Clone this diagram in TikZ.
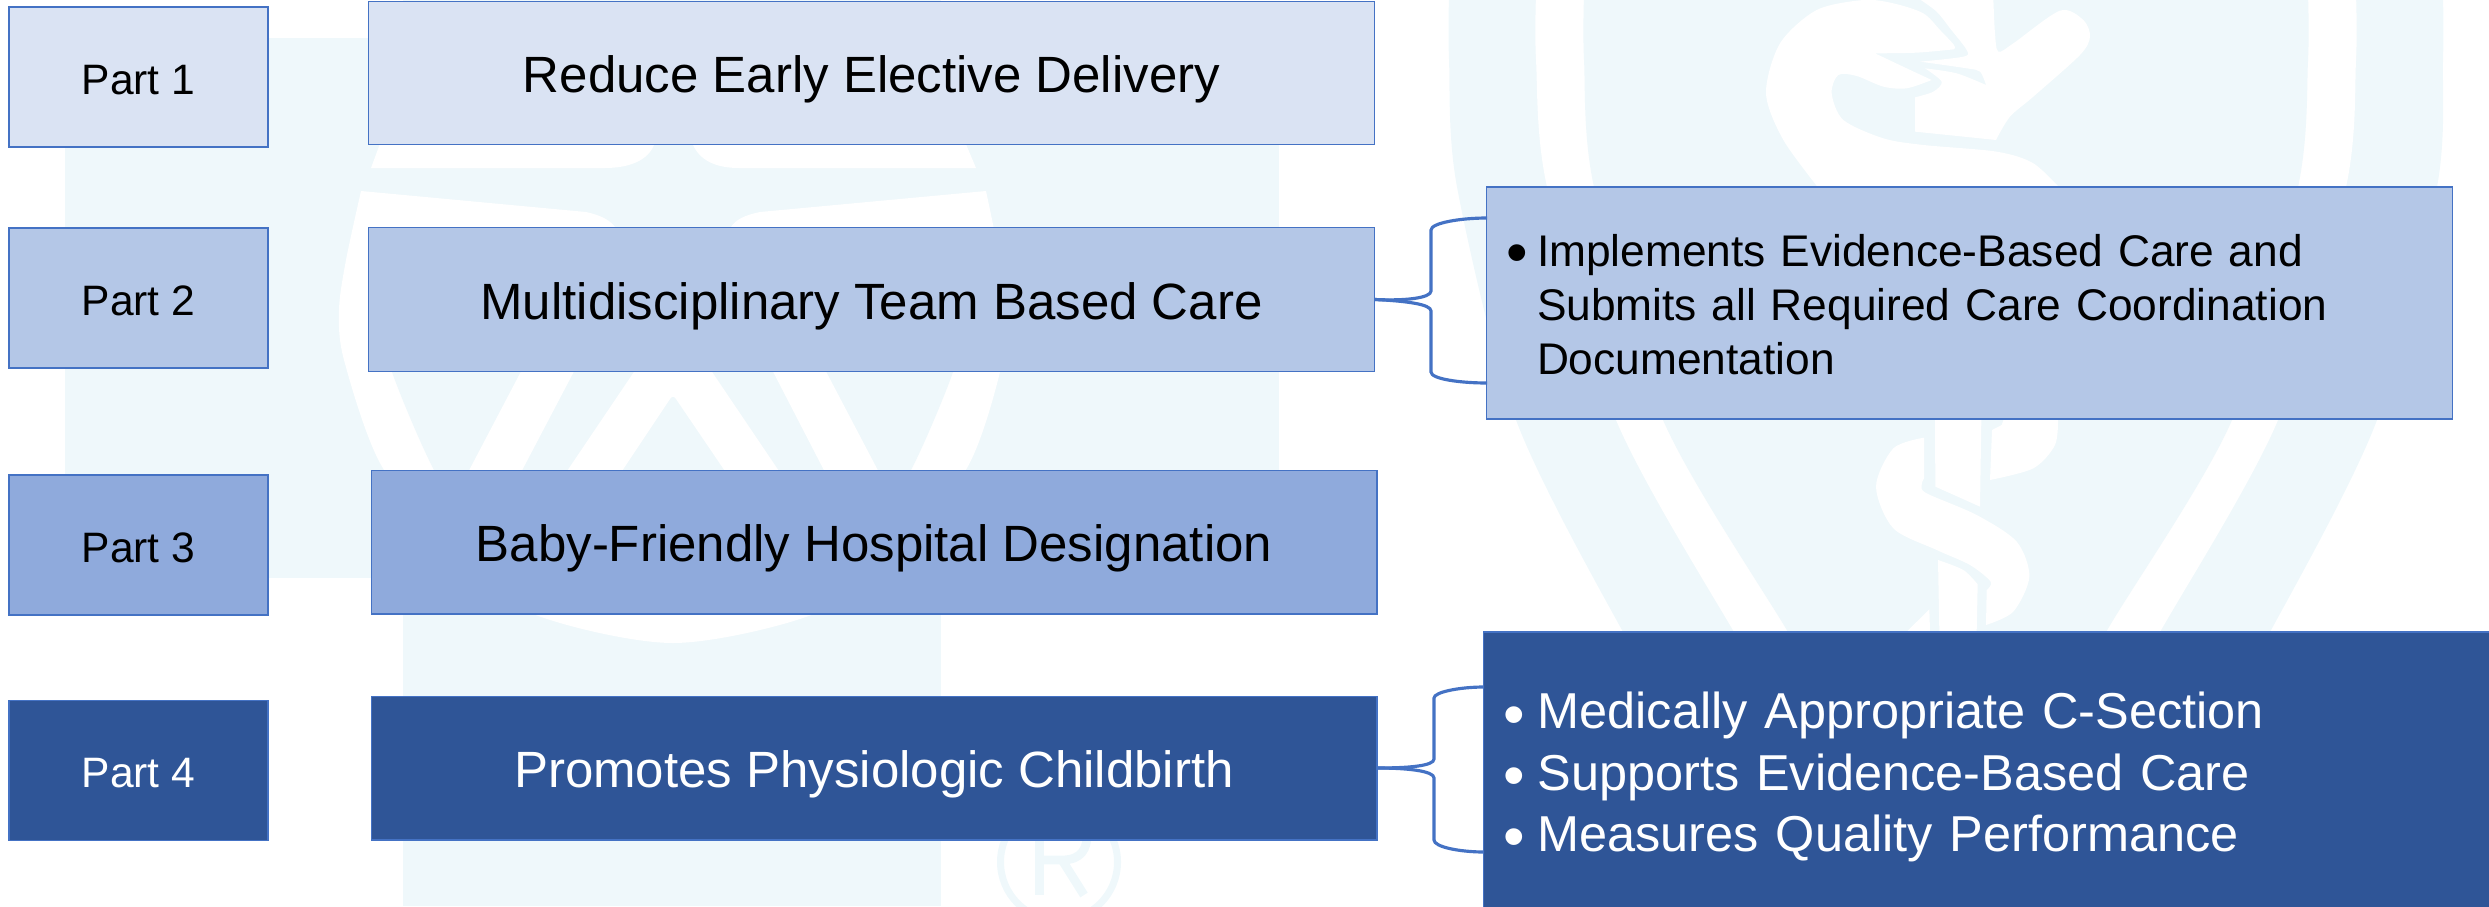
\documentclass[tikz,border=0pt]{standalone}
\usepackage{fontspec}
\setmainfont{Liberation Sans}
\newcommand{\bulletmark}[1]{\makebox[#1][l]{\raisebox{-1.9pt}{\fontsize{17.5}{17}\selectfont\textbullet}}}
\tikzset{
    partbox/.style={draw=boxline, line width=0.4pt, inner sep=0pt, minimum width=2.59cm, minimum height=1.40cm,
        text height=0.34cm, text depth=0pt, font=\fontsize{12.1}{14}\selectfont},
    mainbox/.style={draw=boxline, line width=0.4pt, inner sep=0pt, minimum width=10.05cm, minimum height=1.435cm,
        text height=0.39cm, text depth=0pt, font=\fontsize{14.5}{17}\selectfont},
    sidebox/.style={draw=boxline, line width=0.4pt, inner ysep=0pt, align=left, text height=0.3cm},
    brace/.style={draw=boxline, line width=0.9pt},
    wmark/.style={fill=watermark},
    wgap/.style={fill=white}
}
\begin{document}
\begin{tikzpicture}[x=0.01cm, y=-0.01cm]
    % Define custom colors
    \definecolor{boxline}{RGB}{68,114,196}
    \definecolor{watermark}{RGB}{239,248,251}
    \definecolor{shadeone}{RGB}{218,227,243}
    \definecolor{shadetwo}{RGB}{180,199,231}
    \definecolor{shadethree}{RGB}{143,170,220}
    \definecolor{shadefour}{RGB}{47,85,151}

    \useasboundingbox (0,0) rectangle (2489,906);

    % Left watermark - cross
    \fill[wmark] (65,38) rectangle (1279,578);
    \fill[wmark] (403,0) rectangle (941,906);
    \fill[wgap] (371,168) -- (605,168) .. controls (630,168) and (648,160) .. (654,145) -- (654,130)
        -- (693,130) -- (693,145) .. controls (700,160) and (715,168) .. (739,168) -- (976,168) -- (960,130) -- (385,130) -- cycle;
    \fill[wgap] plot[smooth] coordinates {(361,191) (346,260) (339,310) (344,360) (380,463) (450,555) (533,614) (673,643)
        (814,614) (895,555) (967,468) (1000,372) (1006,310) (1000,260) (986,191)}
        -- (760,212) .. controls (745,215) and (735,220) .. (731,227) -- (731,260) -- (615,260) -- (615,227)
        .. controls (610,220) and (600,215) .. (586,212) -- cycle;
    \fill[wmark] plot[smooth] coordinates {(386,330) (392,372) (433,468) (480,540) (673,600) (865,540) (912,468) (953,372) (959,330)} -- cycle;
    \fill[wgap] (527,360) -- (580,360) -- (517,480) -- (464,480) -- cycle;
    \fill[wgap] (767,360) -- (820,360) -- (883,480) -- (829,480) -- cycle;
    \fill[wgap] (642,360) -- (704,360) -- (785,480) -- (731,480) -- (676,399) .. controls (674,396) and (672,396) .. (670,399) -- (616,480) -- (561,480) -- cycle;

    % Registered mark
    \draw[watermark, line width=2pt] (1059,862) circle (58.5);
    \draw[watermark, line width=2.5pt] (1039.5,835) -- (1039.5,895);
    \draw[watermark, line width=2.5pt] (1039.5,860) -- (1062,860) .. controls (1082,860) and (1087,848) .. (1087,835);
    \draw[watermark, line width=2.5pt] (1062,860) -- (1084,895);

    % Right watermark - shield
    \fill[wmark] plot[smooth] coordinates {(1449,-5) (1449,60) (1457,187) (1516,420) (1623,632) (1680,720)}
        -- plot[smooth] coordinates {(2215,720) (2270,632) (2377,420) (2437,187) (2443,60) (2443,-5)} -- cycle;
    \fill[wgap] plot[smooth] coordinates {(1536,-5) (1536,60) (1547,187) (1616,420) (1734,632) (1790,720)}
        -- plot[smooth] coordinates {(2110,720) (2160,632) (2278,420) (2346,187) (2356,60) (2356,-5)} -- cycle;
    \fill[wmark] plot[smooth] coordinates {(1584,-5) (1584,60) (1594,187) (1663,420) (1788,632) (1840,720)}
        -- plot[smooth] coordinates {(2060,720) (2106,632) (2232,420) (2298,187) (2308,60) (2308,-5)} -- cycle;

    % Snake head and staff top
    \begin{scope}[shift={(1750,0)}, scale=0.3333]
        \fill[wgap] plot[smooth] coordinates {(210,570) (100,420) (48,280) (90,130) (200,30) (340,0) (430,10) (520,40) (570,90) (612,135) (612,148)}
            -- plot[smooth] coordinates {(612,148) (500,158) (375,160)}
            -- plot[smooth] coordinates {(375,160) (470,205) (545,240)}
            -- plot[smooth] coordinates {(545,240) (470,265) (400,260) (320,228) (265,225) (245,280) (280,360) (400,415) (520,435) (740,455) (850,490) (935,570)} -- cycle;
        \fill[wgap] plot[smooth] coordinates {(505,-5) (560,35) (600,85) (650,150) (640,170) (510,185)}
            -- plot[smooth] coordinates {(510,185) (650,205) (690,215) (708,255)}
            -- plot[smooth] coordinates {(708,255) (620,220) (525,205)}
            -- plot[smooth] coordinates {(525,205) (575,245) (550,275) (495,292)}
            -- (495,395) -- (738,420)
            -- plot[smooth] coordinates {(738,420) (780,350) (850,290) (990,165) (1020,110) (1000,60) (930,32) (790,130) (745,155) (735,100) (730,-5)} -- cycle;
    \end{scope}

    % Snake body and staff bottom
    \begin{scope}[shift={(1860,415)}, scale=0.3333]
        \fill[wgap] plot[smooth] coordinates {(192,68) (100,100) (48,215) (100,340) (230,405) (330,450) (392,500) (380,525)}
            -- plot[smooth] coordinates {(378,630) (460,590) (508,485) (470,380) (350,300) (200,235) (185,210) (192,190)} -- cycle;
        \fill[wgap] plot[smooth] coordinates {(594,10) (585,90) (520,160) (390,195)} -- (396,45) -- (425,30) -- (432,10) -- cycle;
        \fill[wgap] (225,10) -- (226,215) -- (360,275) -- (364,10) -- cycle;
        \fill[wgap] plot[smooth] coordinates {(234,435) (310,465) (353,508)} -- (350,650) -- (238,650) -- cycle;
        \fill[wgap] (208,583) -- (140,650) -- (210,650) -- cycle;
    \end{scope}

    % Part labels
    \node[partbox, fill=shadeone] (partone) at (138.5,77) {Part 1};
    \node[partbox, fill=shadetwo] (parttwo) at (138.5,298) {Part 2};
    \node[partbox, fill=shadethree] (partthree) at (138.5,545) {Part 3};
    \node[partbox, fill=shadefour, text=white] (partfour) at (138.5,770.5) {Part 4};

    % Main boxes
    \node[mainbox, fill=shadeone] (reduce) at (871.5,73) {Reduce Early Elective Delivery};
    \node[mainbox, fill=shadetwo] (team) at (871.5,299.5) {Multidisciplinary Team Based Care};
    \node[mainbox, fill=shadethree] (baby) at (874,542) {Baby-Friendly Hospital Designation};
    \node[mainbox, fill=shadefour, text=white] (promotes) at (874,768) {Promotes Physiologic Childbirth};

    % Side boxes
    \node[sidebox, fill=shadetwo, minimum width=9.65cm, minimum height=2.32cm, text width=9.25cm, inner xsep=0.2cm,
        text depth=1.03cm, font=\fontsize{12.6}{15.36}\selectfont] (evidence) at (1969.5,303)
        {\bulletmark{8.6pt}Implements Evidence-Based Care and\\
         \hspace*{8.6pt}Submits all Required Care Coordination\\
         \hspace*{8.6pt}Documentation};
    \node[sidebox, fill=shadefour, text=white, minimum width=10.12cm, minimum height=2.8cm, text width=9.72cm, inner xsep=0.2cm,
        text depth=1.16cm, font=\fontsize{14.35}{17.35}\selectfont] (birth) at (1990,772)
        {\bulletmark{9.6pt}Medically Appropriate C-Section\\
         \bulletmark{9.6pt}Supports Evidence-Based Care\\
         \bulletmark{9.6pt}Measures Quality Performance};

    % Braces
    \coordinate (evidencetop) at (1487,218);
    \coordinate (evidencelow) at (1487,383);
    \coordinate (birthtop) at (1484,687);
    \coordinate (birthlow) at (1484,852);
    \draw[brace] (team.east) .. controls (1405,301) and (1431,298) .. (1431,291) -- (1431,230) .. controls (1431,223) and (1460,218) .. (evidencetop);
    \draw[brace] (team.east) .. controls (1405,301) and (1431,304) .. (1431,311) -- (1431,372) .. controls (1431,379) and (1460,383) .. (evidencelow);
    \draw[brace] (promotes.east) .. controls (1408,768) and (1434,766) .. (1434,759) -- (1434,698) .. controls (1434,692) and (1460,687) .. (birthtop);
    \draw[brace] (promotes.east) .. controls (1408,768) and (1434,771) .. (1434,778) -- (1434,840) .. controls (1434,847) and (1460,852) .. (birthlow);
\end{tikzpicture}
\end{document}
